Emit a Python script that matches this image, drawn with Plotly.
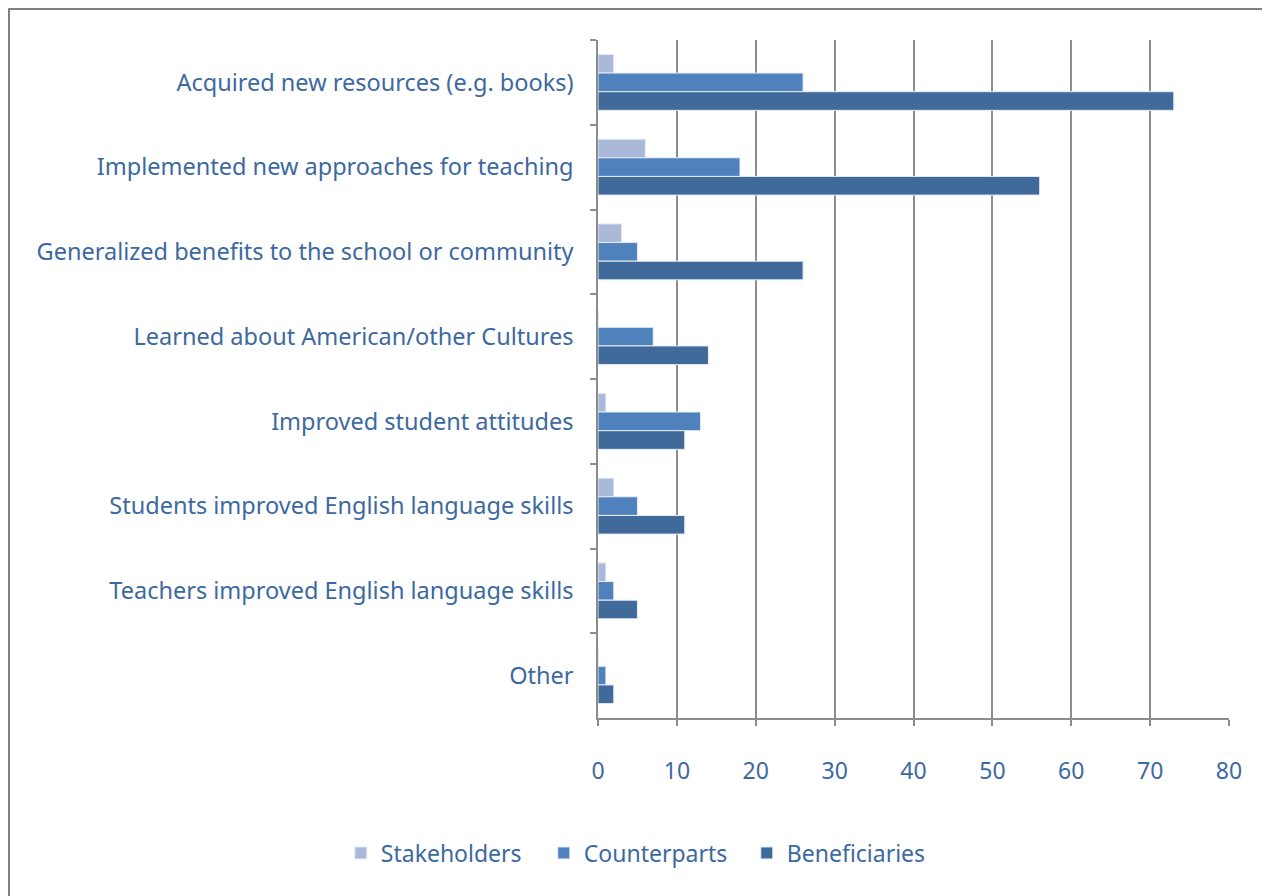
import plotly.graph_objects as go

categories = [
    "Acquired new resources (e.g. books)",
    "Implemented new approaches for teaching",
    "Generalized benefits to the school or community",
    "Learned about American/other Cultures",
    "Improved student attitudes",
    "Students improved English language skills",
    "Teachers improved English language skills",
    "Other",
]
stakeholders = [2, 6, 3, 0, 1, 2, 1, 0]
counterparts = [26, 18, 5, 7, 13, 5, 2, 1]
beneficiaries = [73, 56, 26, 14, 11, 11, 5, 2]
x_ticks = [0, 10, 20, 30, 40, 50, 60, 70, 80]

series = [
    ("Stakeholders", stakeholders, "#AAB9D7"),
    ("Counterparts", counterparts, "#4F81BD"),
    ("Beneficiaries", beneficiaries, "#3F6A9A"),
]

# page body has an 8px margin, so the figure is sized/placed accordingly
W, H = 1262, 888
L, R, T, B = 590, 41, 32, 178
PW, PH = W - L - R, H - T - B
text_color = "#3C69A0"
font_family = "Noto Sans, Open Sans, sans-serif"

fig = go.Figure()
for name, vals, color in series:
    fig.add_trace(go.Bar(
        y=categories, x=vals, name=name, orientation="h",
        marker=dict(color=color, line=dict(color="#E6ECF5", width=1)),
    ))

def px_x(p):
    return (p - L) / PW

def px_y(p):
    return (H - B - p) / PH

fig.update_layout(
    width=W, height=H,
    margin=dict(l=L, r=R, t=T, b=B, pad=0),
    paper_bgcolor="white", plot_bgcolor="white",
    barmode="group", bargap=0.34, bargroupgap=0,
    font=dict(family=font_family, color=text_color, size=23),
    showlegend=True,
    legend=dict(orientation="h", xref="container", yref="container",
                x=0.505, xanchor="center", y=1 - 845 / H, yanchor="middle",
                font=dict(size=23, color=text_color), traceorder="normal",
                itemwidth=30, entrywidth=158, entrywidthmode="pixels"),
    xaxis=dict(range=[0, 80], tickvals=x_ticks, showgrid=True, gridcolor="#8C8C8C",
               gridwidth=1.5, showline=True, linecolor="#8C8C8C", linewidth=1.5,
               ticks="outside", ticklen=6, tickcolor="#8C8C8C", tickwidth=1.5,
               zeroline=False, ticklabelstandoff=26,
               tickfont=dict(size=23, color=text_color)),
    yaxis=dict(autorange="reversed", type="category", showline=True, linecolor="#8C8C8C",
               linewidth=1.5, ticks="outside", tickson="boundaries", ticklen=6,
               tickcolor="#8C8C8C", tickwidth=1.5, showgrid=False,
               ticklabelstandoff=18,
               tickfont=dict(size=23.5, color=text_color)),
    shapes=[
        dict(type="line", xref="paper", yref="paper",
             x0=px_x(0.5), x1=px_x(W + 10), y0=px_y(0.5), y1=px_y(0.5),
             line=dict(color="#808080", width=3)),
        dict(type="line", xref="paper", yref="paper",
             x0=px_x(0.5), x1=px_x(0.5), y0=px_y(0.5), y1=px_y(H + 10),
             line=dict(color="#808080", width=3)),
    ],
)

fig.write_html("out.html")
